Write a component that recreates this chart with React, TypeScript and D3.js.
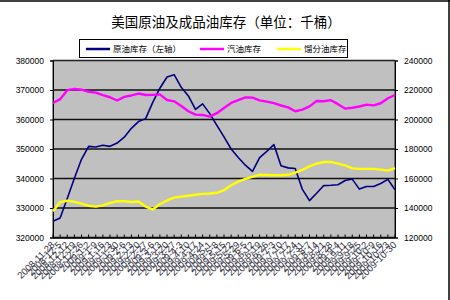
import React, { useEffect, useRef } from "react";
import * as d3 from "d3";

// weekly report dates
const dates = [
  "2008-11-28", "2008-12-5", "2008-12-12", "2008-12-19", "2008-12-26",
  "2009-1-2", "2009-1-9", "2009-1-16", "2009-1-23", "2009-1-30",
  "2009-2-6", "2009-2-13", "2009-2-20", "2009-2-27",
  "2009-3-6", "2009-3-13", "2009-3-20", "2009-3-27",
  "2009-4-3", "2009-4-10", "2009-4-17", "2009-4-24",
  "2009-5-1", "2009-5-8", "2009-5-15", "2009-5-22", "2009-5-29",
  "2009-6-5", "2009-6-12", "2009-6-19", "2009-6-26",
  "2009-7-3", "2009-7-10", "2009-7-17", "2009-7-24", "2009-7-31",
  "2009-8-7", "2009-8-14", "2009-8-21", "2009-8-28",
  "2009-9-4", "2009-9-11", "2009-9-18", "2009-9-25",
  "2009-10-2", "2009-10-9", "2009-10-16", "2009-10-23", "2009-10-30",
];

// 原油库存 (left axis)
const crude = [
  325500, 326600, 333200, 340100, 346500, 350900, 350700, 351300, 350900, 352000,
  354000, 357000, 359300, 360300, 365800, 370600, 374400, 375200, 370900, 368000,
  363400, 365300, 362000, 358000, 354100, 350000, 347100, 344500, 342400, 347100,
  349200, 351500, 344300, 343600, 343400, 336300, 332500, 335000, 337600, 337700,
  337900, 339300, 339800, 336400, 337300, 337300, 338300, 339700, 336200,
];

// 汽油库存 (right axis)
const gasoline = [
  211200, 213800, 219900, 220700, 220200, 218800, 218200, 216500, 215100, 212900,
  215300, 216300, 217600, 216600, 216700, 217000, 213200, 212300, 209200, 205600,
  203300, 203100, 202000, 204300, 207800, 211200, 213200, 215000, 214800, 213000,
  212100, 211100, 209500, 208200, 205600, 206700, 208900, 212500, 212400, 213100,
  210400, 207400, 208000, 208800, 210100, 209600, 211000, 214400, 216600,
];

// 馏分油库存 (right axis)
const distillate = [
  137800, 144000, 144900, 144200, 143000, 141500, 140900, 141800, 143500, 144600,
  144600, 144100, 144400, 141000, 139000, 142700, 145100, 147000, 147700, 148300,
  149000, 149600, 149800, 150300, 152100, 155400, 157900, 159700, 161100, 162500,
  162400, 162200, 162200, 162500, 164000, 165900, 168200, 170100, 171200, 171300,
  170100, 168900, 166900, 166500, 166500, 166500, 166000, 165300, 167100,
];

const leftTicks = [320000, 330000, 340000, 350000, 360000, 370000, 380000];
const rightTicks = [120000, 140000, 160000, 180000, 200000, 220000, 240000];

const series = [
  { name: "原油库存（左轴）", values: crude, axis: "left", color: "#000080", width: 1.6 },
  { name: "汽油库存", values: gasoline, axis: "right", color: "#FF00FF", width: 2.4 },
  { name: "馏分油库存", values: distillate, axis: "right", color: "#FFFF00", width: 2.4 },
];

const App: React.FC = () => {
  const ref = useRef<SVGSVGElement>(null);

  useEffect(() => {
    if (!ref.current) return;
    const svg = d3.select(ref.current);
    svg.selectAll("*").remove();

    const width = 450;
    const height = 300;
    const plot = { left: 53, right: 395, top: 60.5, bottom: 237.5 };
    const cjk = "'Noto Sans CJK SC', 'Noto Sans', sans-serif";
    const num = "'Liberation Sans', Arial, sans-serif";

    svg.append("rect").attr("width", width).attr("height", height).attr("fill", "#fff");

    // outer frame (top and right visible)
    svg.append("line").attr("x1", 0).attr("x2", width).attr("y1", 1).attr("y2", 1)
      .attr("stroke", "#000").attr("stroke-width", 1.5);
    svg.append("line").attr("x1", width - 1).attr("x2", width - 1).attr("y1", 0).attr("y2", height)
      .attr("stroke", "#000").attr("stroke-width", 1.5);

    const x = d3.scalePoint<string>().domain(dates).range([plot.left, plot.right]).padding(0);
    const yLeft = d3.scaleLinear().domain([320000, 380000]).range([plot.bottom, plot.top]);
    const yRight = d3.scaleLinear().domain([120000, 240000]).range([plot.bottom, plot.top]);

    // plot background
    svg.append("rect")
      .attr("x", plot.left).attr("y", plot.top)
      .attr("width", plot.right - plot.left).attr("height", plot.bottom - plot.top)
      .attr("fill", "#C0C0C0");

    // gridlines
    svg.append("g").selectAll("line").data(leftTicks).enter().append("line")
      .attr("x1", plot.left).attr("x2", plot.right)
      .attr("y1", (d) => yLeft(d)).attr("y2", (d) => yLeft(d))
      .attr("stroke", "#111").attr("stroke-width", 1.3);

    // plot border
    svg.append("rect")
      .attr("x", plot.left).attr("y", plot.top)
      .attr("width", plot.right - plot.left).attr("height", plot.bottom - plot.top)
      .attr("fill", "none").attr("stroke", "#222").attr("stroke-width", 1);

    // left axis
    const gl = svg.append("g")
      .attr("transform", `translate(${plot.left},0)`)
      .call(d3.axisLeft(yLeft).tickValues(leftTicks).tickSize(3).tickPadding(6).tickFormat((d) => String(d)));
    gl.selectAll("text").style("font-family", num).style("font-size", "8.5px").style("fill", "#000");
    gl.select(".domain").attr("stroke", "#000");

    // right axis
    const gr = svg.append("g")
      .attr("transform", `translate(${plot.right},0)`)
      .call(d3.axisRight(yRight).tickValues(rightTicks).tickSize(3).tickPadding(6).tickFormat((d) => String(d)));
    gr.selectAll("text").style("font-family", num).style("font-size", "8.5px").style("fill", "#000");
    gr.select(".domain").attr("stroke", "#000");

    // bottom axis, inward ticks
    const step = x.step();
    const tickPos = dates.map((d) => x(d) || 0);
    svg.append("line")
      .attr("x1", plot.left).attr("x2", plot.right)
      .attr("y1", plot.bottom + 0.5).attr("y2", plot.bottom + 0.5)
      .attr("stroke", "#000").attr("stroke-width", 1.5);
    svg.append("g").selectAll("line").data(tickPos).enter().append("line")
      .attr("x1", (d) => d).attr("x2", (d) => d)
      .attr("y1", plot.bottom - 3).attr("y2", plot.bottom)
      .attr("stroke", "#000");

    svg.append("g").selectAll("text").data(dates).enter().append("text")
      .attr("transform", (d) => `translate(${(x(d) || 0) + step * 0.3},${plot.bottom + 8}) rotate(-45)`)
      .attr("text-anchor", "end")
      .style("font-family", num)
      .style("font-size", "9.5px")
      .style("fill", "#334")
      .text((d) => d);

    // lines
    series.forEach((s) => {
      const yScale = s.axis === "left" ? yLeft : yRight;
      const line = d3.line<number>()
        .x((_, i) => x(dates[i]) || 0)
        .y((d) => yScale(d));
      svg.append("path")
        .datum(s.values)
        .attr("d", line)
        .attr("fill", "none")
        .attr("stroke", s.color)
        .attr("stroke-width", s.width)
        .attr("stroke-linejoin", "round");
    });

    // title
    svg.append("text")
      .attr("x", 226).attr("y", 27)
      .attr("text-anchor", "middle")
      .style("font-family", cjk)
      .style("font-size", "13.5px")
      .style("fill", "#000")
      .text("美国原油及成品油库存（单位：千桶）");

    // legend
    const legend = svg.append("g");
    legend.append("rect")
      .attr("x", 79.5).attr("y", 39.5).attr("width", 268).attr("height", 18)
      .attr("fill", "#fff").attr("stroke", "#000").attr("stroke-width", 1);
    const legendX = [86, 200, 277];
    series.forEach((s, i) => {
      legend.append("line")
        .attr("x1", legendX[i]).attr("x2", legendX[i] + 24)
        .attr("y1", 49).attr("y2", 49)
        .attr("stroke", s.color).attr("stroke-width", 2.5);
      legend.append("text")
        .attr("x", legendX[i] + 27).attr("y", 52)
        .style("font-family", cjk)
        .style("font-size", "8.5px")
        .style("fill", "#000")
        .text(s.name);
    });
  }, []);

  return (
    <svg
      ref={ref}
      width={450}
      height={300}
      style={{ position: "absolute", left: 0, top: 0 }}
    />
  );
};

export default App;
